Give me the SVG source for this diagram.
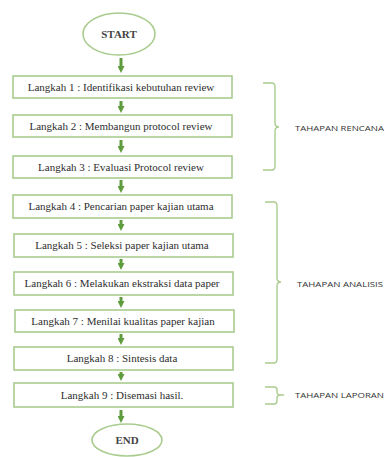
<svg xmlns="http://www.w3.org/2000/svg" width="386" height="457" viewBox="0 0 386 457">
<defs>
<marker id="ah" markerUnits="userSpaceOnUse" markerWidth="9" markerHeight="7" refX="0" refY="3.5" orient="auto">
<path d="M0,0 L7,3.5 L0,7 Z" fill="#5f9c3e"/>
</marker>
<style>
.box{fill:#fff;stroke:#a9cc8e;stroke-width:1.6}
.term{fill:#fff;stroke:#a9cc8e;stroke-width:1.6}
.t{font-family:"Liberation Serif","Times New Roman",serif;font-size:11px;fill:#2e2e2e;text-anchor:middle}
.tt{font-family:"Liberation Serif","Times New Roman",serif;font-size:11px;font-weight:bold;fill:#444;text-anchor:middle}
.arr{stroke:#5f9c3e;stroke-width:3;fill:none;marker-end:url(#ah)}
.br{stroke:#a9cc8e;stroke-width:1.4;fill:none}
.lbl{font-family:"Open Sans","Liberation Sans",sans-serif;font-size:7.5px;fill:#333}
</style>
</defs>
<rect width="386" height="457" fill="#fff"/>
<g id="connectors">
<line class="arr" x1="121" y1="58" x2="121" y2="66"/>
<line class="arr" x1="121" y1="101" x2="121" y2="106"/>
<line class="arr" x1="121" y1="140" x2="121" y2="146"/>
<line class="arr" x1="121" y1="180" x2="121" y2="186"/>
<line class="arr" x1="121" y1="220" x2="121" y2="224"/>
<line class="arr" x1="121" y1="259" x2="121" y2="263"/>
<line class="arr" x1="121" y1="297" x2="121" y2="301"/>
<line class="arr" x1="121" y1="334" x2="121" y2="338"/>
<line class="arr" x1="121" y1="372" x2="121" y2="374"/>
<line class="arr" x1="121" y1="410" x2="121" y2="416"/>
</g>
<g id="start"><ellipse class="term" cx="119" cy="34" rx="36" ry="21"/><text class="tt" x="119" y="38">START</text></g>
<g id="step1"><rect class="box" x="13" y="76" width="219" height="22"/><text class="t" x="121" y="90.5">Langkah 1 :  Identifikasi kebutuhan review</text></g>
<g id="step2"><rect class="box" x="13" y="115" width="219" height="22"/><text class="t" x="121" y="129.5">Langkah 2 : Membangun protocol review</text></g>
<g id="step3"><rect class="box" x="13" y="156" width="219" height="22"/><text class="t" x="121" y="170.5">Langkah 3 : Evaluasi Protocol review</text></g>
<g id="step4"><rect class="box" x="13" y="195" width="219" height="23"/><text class="t" x="121" y="210">Langkah 4 : Pencarian paper kajian utama</text></g>
<g id="step5"><rect class="box" x="14" y="234" width="219" height="23"/><text class="t" x="122" y="249">Langkah 5 : Seleksi paper kajian utama</text></g>
<g id="step6"><rect class="box" x="14" y="272" width="219" height="23"/><text class="t" x="122" y="287">Langkah 6 : Melakukan ekstraksi data paper</text></g>
<g id="step7"><rect class="box" x="15" y="310" width="219" height="22"/><text class="t" x="123" y="324.5">Langkah 7 : Menilai kualitas paper kajian</text></g>
<g id="step8"><rect class="box" x="14" y="347" width="219" height="23"/><text class="t" x="122" y="362">Langkah 8 : Sintesis data</text></g>
<g id="step9"><rect class="box" x="14" y="383" width="219" height="24"/><text class="t" x="122" y="398.5">Langkah 9 : Disemasi hasil.</text></g>
<g id="end"><ellipse class="term" cx="127" cy="440" rx="35" ry="16"/><text class="tt" x="127" y="444">END</text></g>
<g id="rencana">
<path class="br" d="M263,83 L272,83 Q275,83 275,87 L275,123 Q275,127 279,127 Q275,127 275,131 L275,166 Q275,170 272,170 L263,170"/>
<text class="lbl" x="295" y="130.5" textLength="89" lengthAdjust="spacingAndGlyphs">TAHAPAN RENCANA</text>
</g>
<g id="analisis">
<path class="br" d="M265,202 L274,202 Q277,202 277,206 L277,278 Q277,282 281,282 Q277,282 277,286 L277,359 Q277,363 274,363 L265,363"/>
<text class="lbl" x="297" y="286.5" textLength="86" lengthAdjust="spacingAndGlyphs">TAHAPAN ANALISIS</text>
</g>
<g id="laporan">
<path class="br" d="M265,387 L274,387 Q277,387 277,390 L277,392 Q277,395 281,395 L284,395 M281,395 Q277,395 277,398 L277,401 Q277,404 274,404 L265,404"/>
<text class="lbl" x="295" y="398" textLength="89" lengthAdjust="spacingAndGlyphs">TAHAPAN LAPORAN</text>
</g>
</svg>
